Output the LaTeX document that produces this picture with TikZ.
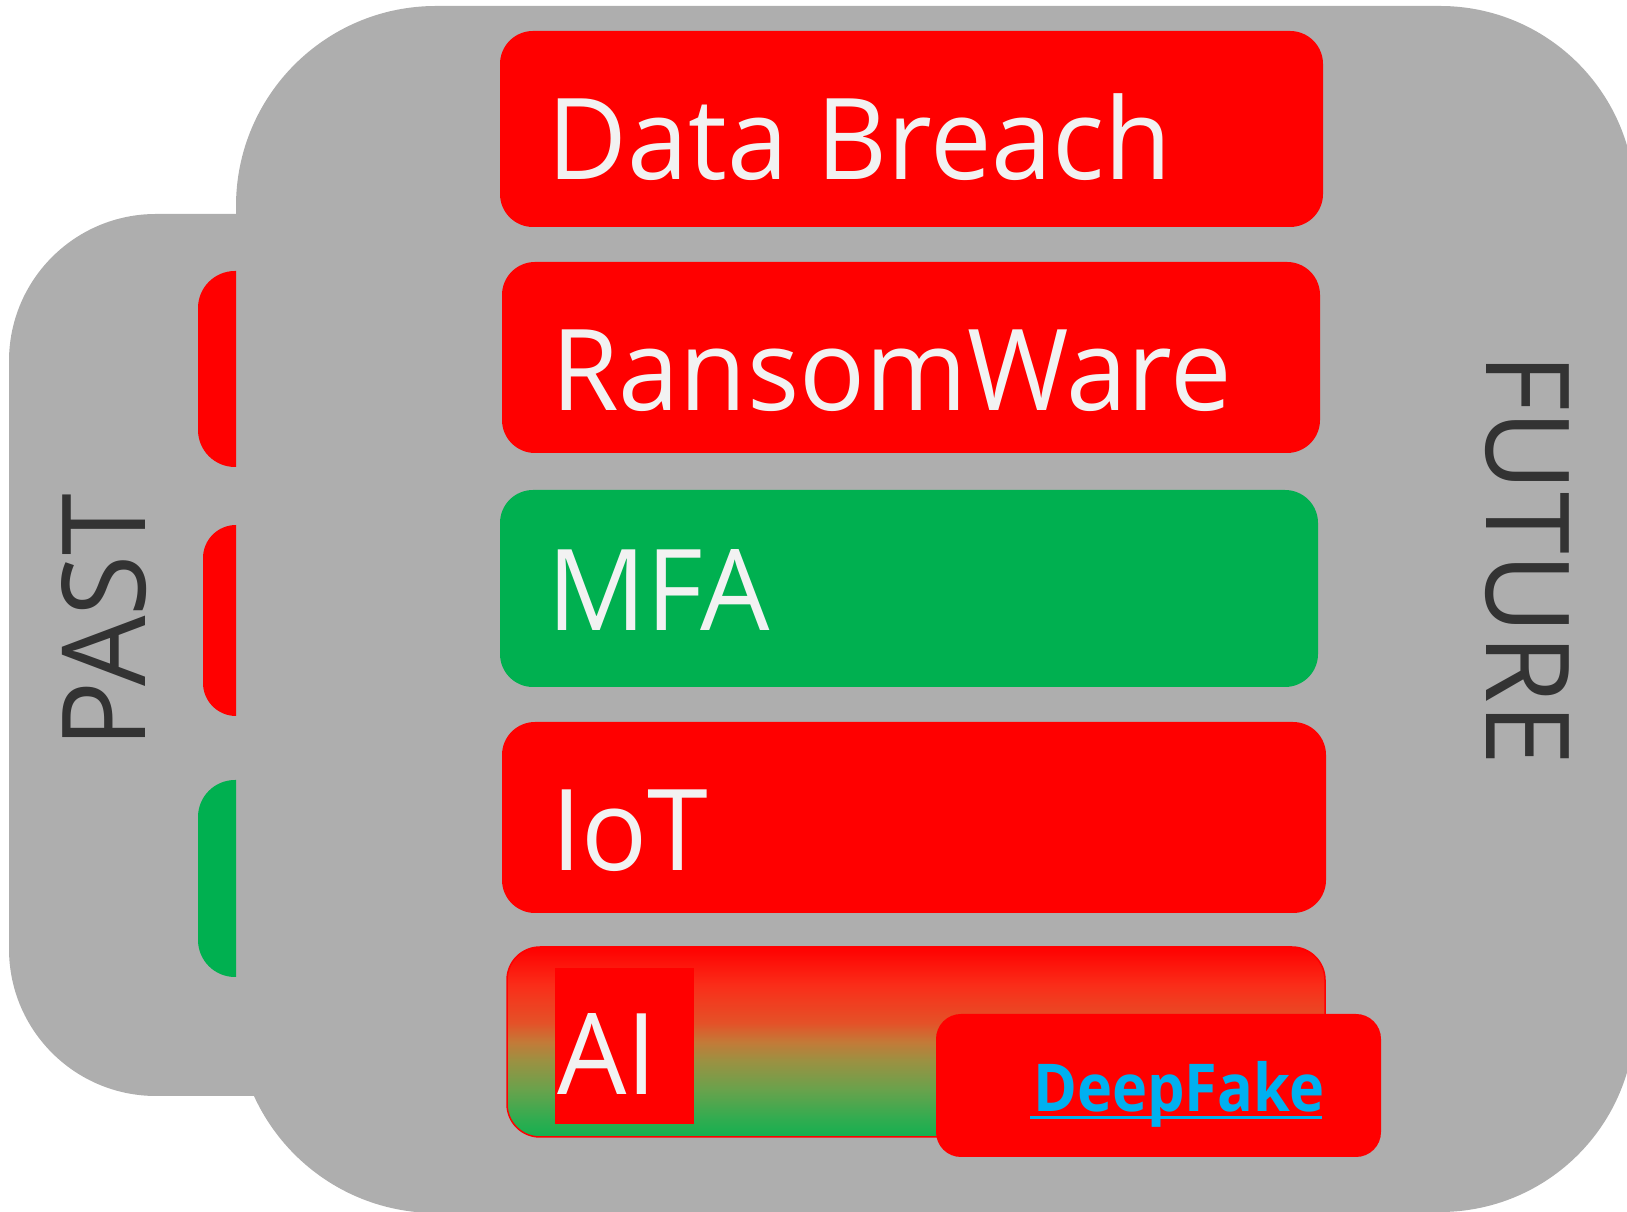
\documentclass[tikz,border=0pt]{standalone}
\usepackage{fontspec}
\setmainfont{Open Sans}
\newfontfamily\boxfont[FakeStretch=0.97]{Open Sans}
\newfontfamily\sidefont[FakeStretch=0.96]{Open Sans}
\newfontfamily\dfont[FakeStretch=0.9]{Open Sans}
\definecolor{bg}{RGB}{174,174,174}
\definecolor{rd}{RGB}{255,0,0}
\definecolor{gn}{RGB}{0,176,80}
\definecolor{txt}{RGB}{242,242,242}
\definecolor{dk}{RGB}{51,51,51}
\definecolor{cy}{RGB}{0,176,240}
\definecolor{ga}{RGB}{250,45,25}
\definecolor{gb}{RGB}{228,82,40}
\definecolor{gc}{RGB}{195,122,56}
\definecolor{gd}{RGB}{155,145,66}
\definecolor{ge}{RGB}{105,162,76}
\definecolor{gf}{RGB}{50,172,80}
\definecolor{gg}{RGB}{20,176,80}
\pgfdeclareverticalshading{aigrad}{100bp}{color(0bp)=(gg); color(25bp)=(gg); color(30bp)=(gf); color(37.5bp)=(ge); color(45bp)=(gd); color(50bp)=(gc); color(55bp)=(gb); color(65bp)=(ga); color(75bp)=(rd); color(100bp)=(rd)}
\tikzset{
  bar/.style={fill=rd, rounded corners=33pt},
  boxtext/.style={text=txt, inner sep=0pt, anchor=base west, font=\boxfont\fontsize{113}{113}\selectfont},
  sidetext/.style={text=dk, inner sep=0pt, anchor=base, font=\sidefont\fontsize{116}{116}\selectfont}
}
\begin{document}
\begin{tikzpicture}[x=1pt,y=1pt]
\useasboundingbox (0,0) rectangle (1627,1212);
\begin{scope}
\clip (0,0) rectangle (1627,1212);
% left gray part
\fill[bg, rounded corners=147pt] (9,116) rectangle (600,998);
% main gray shape
\fill[bg] (436,1206) -- (1440,1206) arc[start angle=90,end angle=0,radius=195] -- (1635,195)
  arc[start angle=0,end angle=-90,radius=195] -- (436,-1)
  arc[start angle=-90,end angle=-180,radius=200] -- (236,1006)
  arc[start angle=180,end angle=90,radius=200] -- cycle;
\end{scope}
% left tabs
\begin{scope}
\clip (0,0) rectangle (236,1212);
\fill[rd, rounded corners=37pt] (198,745) rectangle (300,941);
\fill[rd, rounded corners=33pt] (203,496) rectangle (300,687);
\fill[gn, rounded corners=37pt] (198,235) rectangle (300,432);
\end{scope}
% bars
\fill[bar] (500,985) rectangle (1323,1181);
\fill[bar] (502,759) rectangle (1320,950);
\fill[bar, fill=gn] (500,525) rectangle (1318,722);
\fill[bar] (502,299) rectangle (1326,490);
\shade[rounded corners=33pt, shading=aigrad, draw=rd, line width=1.5pt] (507,75) rectangle (1325,265);
\fill[rd] (555,88) rectangle (694,244);
\fill[rd, rounded corners=25pt] (936,55) rectangle (1381,198);
% texts
\node[boxtext] (t1) at (547.5,1032) {Data Breach};
\node[boxtext] (t2) at (551,801) {RansomWare};
\node[boxtext] (t3) at (547,581) {MFA};
\node[boxtext] (t4) at (551,341) {IoT};
\node[boxtext] (t5) at (557,117) {AI};
\node[text=cy, inner sep=0pt, anchor=base west, font=\dfont\fontsize{66}{66}\selectfont\bfseries] (t6) at (1033,100) {DeepFake};
\fill[cy] (1030,93) rectangle (1322,96);
\node[sidetext, rotate=90] (past) at (145,591) {PAST};
\node[sidetext, rotate=-90] (future) at (1486,652.5) {FUTURE};
\end{tikzpicture}
\end{document}
